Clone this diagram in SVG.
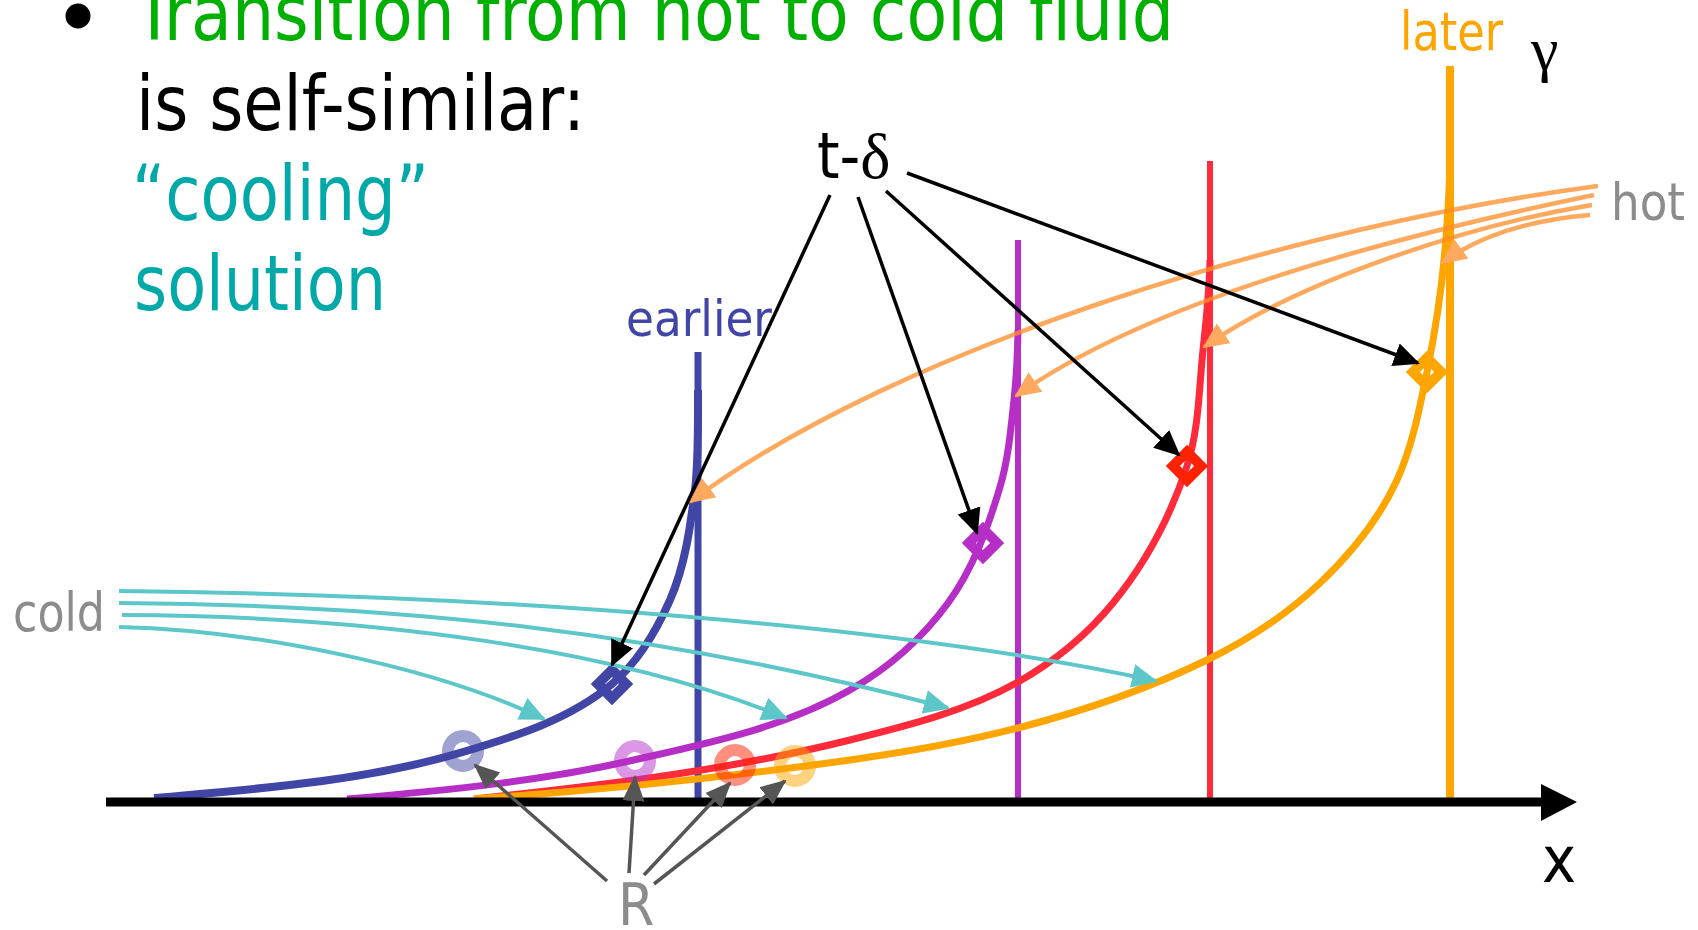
<svg xmlns="http://www.w3.org/2000/svg" width="1698" height="930" viewBox="0 0 1698 930">
<style>
.sans{font-family:"DejaVu Sans Condensed","DejaVu Sans","Liberation Sans",sans-serif;}
.serif{font-family:"Liberation Serif","DejaVu Serif",serif;}
.big{font-size:76px;}
.lbl{fill:#8c8c8c;}
.vline{fill:none;stroke-linecap:butt;}
.curve{fill:none;stroke-linecap:butt;}
.cold{fill:none;stroke:#5cc6c8;stroke-width:4;}
.hot{fill:none;stroke:#ff8c29;stroke-opacity:0.75;stroke-width:4.5;}
.tarr{fill:none;stroke:#000;stroke-width:3.5;}
.rarr{fill:none;stroke:#555;stroke-width:3.5;}
.ring{fill:none;stroke-width:12;opacity:0.5;}
.dia{fill:none;stroke-width:10;}
</style>
<defs>
<marker id="ahTeal" markerUnits="userSpaceOnUse" markerWidth="26" markerHeight="26" viewBox="0 0 26 26" refX="24" refY="13" orient="auto"><path d="M0,1 L26,13 L0,25 z" fill="#5cc6c8"/></marker>
<marker id="ahHot" markerUnits="userSpaceOnUse" markerWidth="26" markerHeight="26" viewBox="0 0 26 26" refX="24" refY="13" orient="auto"><path d="M0,1 L26,13 L0,25 z" fill="#ffa95f"/></marker>
<marker id="ahBlack" markerUnits="userSpaceOnUse" markerWidth="26" markerHeight="26" viewBox="0 0 26 26" refX="24" refY="13" orient="auto"><path d="M0,1 L26,13 L0,25 z" fill="#000"/></marker>
<marker id="ahGray" markerUnits="userSpaceOnUse" markerWidth="26" markerHeight="24" viewBox="0 0 26 24" refX="24" refY="12" orient="auto"><path d="M0,1 L26,12 L0,23 z" fill="#555"/></marker>
</defs>
<rect width="1698" height="930" fill="#fff"/>

<g id="title">
<circle cx="78" cy="16" r="12.5" fill="#000"/>
<text class="sans big" x="134" y="40" fill="#00b000" textLength="1040" lengthAdjust="spacingAndGlyphs">Transition from hot to cold fluid</text>
<text class="sans big" x="136" y="130" fill="#000" textLength="449" lengthAdjust="spacingAndGlyphs">is self-similar:</text>
<text class="sans big" x="132" y="220" fill="#00a8a8" textLength="297" lengthAdjust="spacingAndGlyphs">“cooling”</text>
<text class="sans big" x="134" y="310" fill="#00a8a8" textLength="252" lengthAdjust="spacingAndGlyphs">solution</text>
</g>

<g id="vertical-lines">
<line class="vline" x1="698" y1="352" x2="698" y2="801" stroke="#4146a6" stroke-width="7"/>
<line class="vline" x1="1018" y1="240" x2="1018" y2="801" stroke="#b52fc7" stroke-width="6"/>
<line class="vline" x1="1210" y1="161" x2="1210" y2="801" stroke="#ff2a3a" stroke-width="6"/>
<line class="vline" x1="1450" y1="66" x2="1450" y2="801" stroke="#ffa500" stroke-width="8"/>
</g>

<g id="curve-blue">
<path class="curve" stroke="#4146a6" stroke-width="8" d="M154,798 C257.7,788.9 363.2,781.6 463,752 C515.4,736.5 570.2,719.1 612,684 C638,662.1 656.3,631.1 670,600 C685.1,565.6 690.2,527.3 695,490 C698.5,460.2 698,430 698,390"/>
</g>
<g id="curve-purple">
<path class="curve" stroke="#b52fc7" stroke-width="7" d="M347,799 C443.1,790.6 539.9,781.4 634,760 C707.8,743.2 784.3,727.6 850,690 C887.9,668.3 922.2,638.3 948,603 C973.1,568.8 987.9,527.6 1000,487 C1008.4,458.8 1010.8,429.2 1014,400 C1016.5,376.7 1017.6,353.4 1018,330"/>
</g>
<g id="curve-red">
<path class="curve" stroke="#ff2a3a" stroke-width="7" d="M474,799 C600.2,785.7 726.9,770.7 850,740 C907.4,725.7 966.4,711.1 1018,682 C1053.9,661.8 1086.9,634.9 1113,603 C1145.9,562.8 1170.9,515.4 1187,466 C1199.1,428.9 1198.9,388.8 1203,350 C1206.2,320.1 1209.5,290.1 1210,260"/>
</g>
<g id="curve-orange">
<path class="curve" stroke="#ffa500" stroke-width="7" d="M474,799 C599.7,790.2 725.2,777.5 850,760 C906.4,752.1 962.8,742.3 1018,728 C1082.8,711.1 1146.8,689.5 1207,660 C1248,640 1286.9,614.4 1320,583 C1351.1,553.4 1379.2,519 1397,480 C1412.5,446 1419.5,408.7 1427,372 C1435.2,331.7 1441.5,290.9 1445,250 C1447.8,216.7 1450,183.4 1450,150"/>
</g>

<g id="axis">
<line x1="106" y1="802" x2="1545" y2="802" stroke="#000" stroke-width="9"/>
<polygon points="1541,784 1577,802 1541,821" fill="#000"/>
</g>

<g id="markers">
<g id="diamonds">
<rect class="dia" x="602" y="674" width="20" height="20" stroke="#4146a6" transform="rotate(45 612 684)"/>
<rect class="dia" x="973" y="533" width="20" height="20" stroke="#b52fc7" transform="rotate(45 983 543)"/>
<rect class="dia" x="1177" y="456" width="20" height="20" stroke="#ff2200" transform="rotate(45 1187 466)"/>
<rect class="dia" x="1417" y="362" width="20" height="20" stroke="#ffa500" transform="rotate(45 1427 372)"/>
</g>
<g id="rings">
<circle class="ring" cx="463" cy="751" r="15" stroke="#4146a6"/>
<circle class="ring" cx="635" cy="761" r="15" stroke="#b52fc7"/>
<circle class="ring" cx="735" cy="765" r="15" stroke="#ff2200"/>
<circle class="ring" cx="795" cy="766" r="15" stroke="#ffa500"/>
</g>
</g>

<g id="connectors">
<g id="cold-flow">
<path class="cold" marker-end="url(#ahTeal)" d="M119,591 C500,595 900,625 1156,681"/>
<path class="cold" marker-end="url(#ahTeal)" d="M119,603 C400,605 650,630 948,708"/>
<path class="cold" marker-end="url(#ahTeal)" d="M122,615 C380,616 620,650 786,718"/>
<path class="cold" marker-end="url(#ahTeal)" d="M119,627 C250,630 430,665 544,719"/>
</g>
<g id="hot-flow">
<path class="hot" marker-end="url(#ahHot)" d="M1598,186 C1300,225 900,345 690,502"/>
<path class="hot" marker-end="url(#ahHot)" d="M1594,195 C1400,235 1150,300 1016,396"/>
<path class="hot" marker-end="url(#ahHot)" d="M1592,205 C1470,225 1300,280 1204,347"/>
<path class="hot" marker-end="url(#ahHot)" d="M1590,215 C1530,220 1480,235 1442,263"/>
</g>
<g id="t-delta-arrows">
<line class="tarr" marker-end="url(#ahBlack)" x1="830" y1="195" x2="612" y2="665"/>
<line class="tarr" marker-end="url(#ahBlack)" x1="858" y1="197" x2="977" y2="533"/>
<line class="tarr" marker-end="url(#ahBlack)" x1="886" y1="191" x2="1179" y2="455"/>
<line class="tarr" marker-end="url(#ahBlack)" x1="907" y1="173" x2="1418" y2="363"/>
</g>
<g id="r-arrows">
<line class="rarr" marker-end="url(#ahGray)" x1="607" y1="881" x2="475" y2="765"/>
<line class="rarr" marker-end="url(#ahGray)" x1="629" y1="873" x2="635" y2="777"/>
<line class="rarr" marker-end="url(#ahGray)" x1="644" y1="875" x2="730" y2="783"/>
<line class="rarr" marker-end="url(#ahGray)" x1="654" y1="884" x2="785" y2="781"/>
</g>
</g>

<g id="labels">
<text class="sans" x="626" y="336" font-size="50" fill="#4146a6" textLength="146" lengthAdjust="spacingAndGlyphs">earlier</text>
<text class="sans" x="1400" y="50" font-size="53" fill="#ffa500" textLength="103" lengthAdjust="spacingAndGlyphs">later</text>
<text class="serif" x="1531" y="70" font-size="62" fill="#000">γ</text>
<text class="sans lbl" x="1611" y="220" font-size="52" textLength="74" lengthAdjust="spacingAndGlyphs">hot</text>
<text class="sans lbl" x="13" y="631" font-size="53" textLength="92" lengthAdjust="spacingAndGlyphs">cold</text>
<text class="sans lbl" x="618" y="925" font-size="58">R</text>
<text class="sans" x="1542" y="882" font-size="64" fill="#000">x</text>
<text x="817" y="178" font-size="64" fill="#000"><tspan class="sans">t-</tspan><tspan class="serif">δ</tspan></text>
</g>
</svg>
